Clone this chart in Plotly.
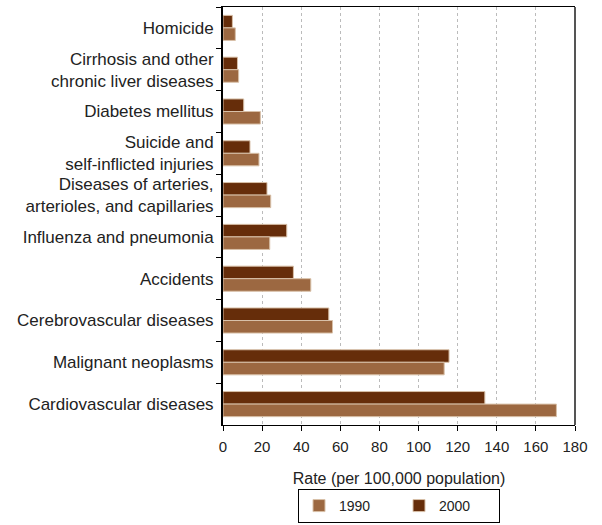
import plotly.graph_objects as go

categories = [
    "Homicide",
    "Cirrhosis and other<br>chronic liver diseases",
    "Diabetes mellitus",
    "Suicide and<br>self-inflicted injuries",
    "Diseases of arteries,<br>arterioles, and capillaries",
    "Influenza and pneumonia",
    "Accidents",
    "Cerebrovascular diseases",
    "Malignant neoplasms",
    "Cardiovascular diseases",
]
rate_1990 = [6.3, 8.0, 19.1, 18.4, 24.4, 23.9, 44.9, 56.0, 113.1, 170.5]
rate_2000 = [4.8, 7.4, 10.6, 13.8, 22.5, 32.6, 36.0, 54.1, 115.6, 133.9]
x_ticks = [0, 20, 40, 60, 80, 100, 120, 140, 160, 180]

FONT = "Liberation Sans"

fig = go.Figure()
fig.add_trace(go.Bar(
    y=categories, x=rate_2000, name="2000", orientation="h",
    marker=dict(color="#662d0a", line=dict(color="#d8c0a8", width=1)),
))
fig.add_trace(go.Bar(
    y=categories, x=rate_1990, name="1990", orientation="h",
    marker=dict(color="#9c6841", line=dict(color="#d8c0a8", width=1)),
))

fig.update_layout(
    width=602, height=525,
    margin=dict(l=223, r=27, t=7, b=100, autoexpand=False),
    paper_bgcolor="white", plot_bgcolor="white",
    font=dict(family=FONT, size=16, color="#222"),
    barmode="group", bargap=0.4, bargroupgap=0,
    showlegend=True,
    legend=dict(
        orientation="h", traceorder="reversed",
        x=0.5, xanchor="center", xref="paper",
        y=-0.2344, yanchor="bottom",
        bordercolor="black", borderwidth=1,
        font=dict(family=FONT, size=14, color="#222"),
        entrywidth=55, itemwidth=30,
    ),
    xaxis=dict(
        range=[0, 180], tickvals=x_ticks,
        showgrid=True, gridcolor="#bbbbbb", griddash="dot", gridwidth=1,
        showline=True, linecolor="black", linewidth=1, mirror=True,
        ticks="outside", ticklen=5, tickcolor="black",
        tickfont=dict(family=FONT, size=15, color="#222"),
        ticklabelstandoff=3,
        title=dict(text="Rate (per 100,000 population)", standoff=18,
                   font=dict(family=FONT, size=16, color="#222")),
        zeroline=False,
    ),
    yaxis=dict(
        autorange="reversed",
        showline=True, linecolor="black", linewidth=2,
        ticks="outside", ticklen=5, tickcolor="black", tickson="boundaries",
        tickfont=dict(family=FONT, size=17, color="#222"),
        ticklabelstandoff=4,
    ),
    shapes=[dict(type="line", xref="paper", yref="paper", x0=1, x1=1, y0=0, y1=1,
                 line=dict(color="#555", width=2))],
)

fig.write_html("out.html", config={"displayModeBar": False},
               post_script="document.body.style.margin='0';document.body.style.overflow='hidden';")
